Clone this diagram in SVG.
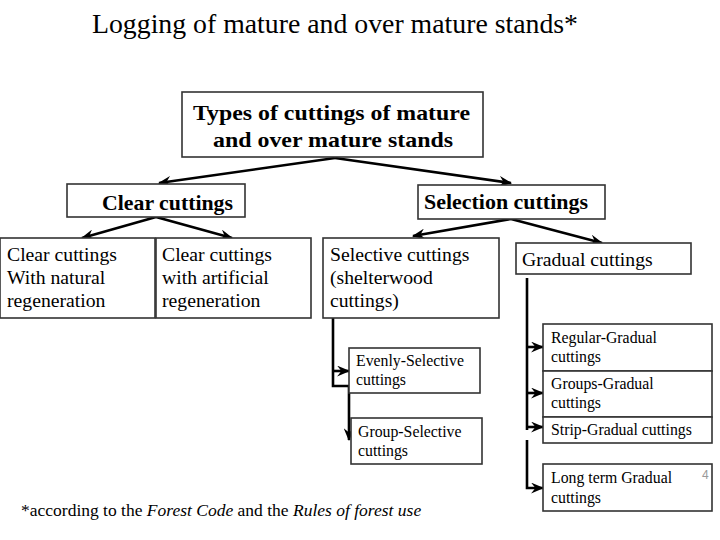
<svg xmlns="http://www.w3.org/2000/svg" width="720" height="540" viewBox="0 0 720 540">
<style>
.bx{fill:#fff;stroke:#333;stroke-width:1.6}
.t{font-family:"Liberation Serif","Times New Roman",serif;fill:#000}
.b{font-weight:bold;font-size:22px}
.m{font-size:19.7px}
.s{font-size:15.8px}
.c{fill:none;stroke:#000;stroke-width:2.6}
</style>
<defs>
<marker id="ah" viewBox="0 0 12 10" refX="11" refY="5" markerWidth="13" markerHeight="11" markerUnits="userSpaceOnUse" orient="auto">
<path d="M0,0 L12,5 L0,10 L4,5 z" fill="#000"/>
</marker>
</defs>
<rect width="720" height="540" fill="#fff"/>
<text class="t" x="92" y="33" font-size="27.8" textLength="486" lengthAdjust="spacingAndGlyphs">Logging of mature and over mature stands*</text>

<g id="connectors">
<path class="c" d="M335,158 L159,183" marker-end="url(#ah)"/>
<path class="c" d="M335,158 L511,183" marker-end="url(#ah)"/>
<path class="c" d="M156,217 L82,238" marker-end="url(#ah)"/>
<path class="c" d="M156,217 L232,238" marker-end="url(#ah)"/>
<path class="c" d="M511,219 L413,236" marker-end="url(#ah)"/>
<path class="c" d="M511,219 L602,243" marker-end="url(#ah)"/>
<path class="c" d="M333,318 V386 H349 V440" marker-end="url(#ah)"/>
<path class="c" d="M333,371 H349" marker-end="url(#ah)"/>
<path class="c" d="M527,278 V430"/>
<path class="c" d="M527,347 H543" marker-end="url(#ah)"/>
<path class="c" d="M527,393 H543" marker-end="url(#ah)"/>
<path class="c" d="M527,427 H543" marker-end="url(#ah)"/>
<path class="c" d="M527,440 V488 H543" marker-end="url(#ah)"/>
</g>

<g id="root">
<rect class="bx" x="182" y="92" width="301" height="65"/>
<text class="t b" x="193" y="120" font-size="24" textLength="277" lengthAdjust="spacingAndGlyphs">Types of cuttings of mature</text>
<text class="t b" x="213" y="147" font-size="24" textLength="240" lengthAdjust="spacingAndGlyphs">and over mature stands</text>
</g>

<g id="clear">
<rect class="bx" x="67" y="184" width="178" height="33"/>
<text class="t b" x="102" y="210" textLength="131" lengthAdjust="spacingAndGlyphs">Clear cuttings</text>
</g>

<g id="selection">
<rect class="bx" x="418" y="185" width="187" height="34"/>
<text class="t b" x="424" y="209" textLength="164" lengthAdjust="spacingAndGlyphs">Selection cuttings</text>
</g>

<g id="clear-natural">
<rect class="bx" x="0" y="238" width="155" height="80"/>
<text class="t m" x="7" y="261">Clear cuttings</text>
<text class="t m" x="7" y="284">With natural</text>
<text class="t m" x="7" y="307">regeneration</text>
</g>

<g id="clear-artificial">
<rect class="bx" x="156" y="238" width="155" height="80"/>
<text class="t m" x="162" y="261">Clear cuttings</text>
<text class="t m" x="162" y="284">with artificial</text>
<text class="t m" x="162" y="307">regeneration</text>
</g>

<g id="selective">
<rect class="bx" x="323" y="238" width="176" height="80"/>
<text class="t m" x="330" y="261">Selective cuttings</text>
<text class="t m" x="330" y="284">(shelterwood</text>
<text class="t m" x="330" y="307">cuttings)</text>
</g>

<g id="gradual">
<rect class="bx" x="516" y="243" width="175" height="31"/>
<text class="t m" x="522" y="266">Gradual cuttings</text>
</g>

<g id="evenly">
<rect class="bx" x="349" y="348" width="131" height="45"/>
<text class="t s" x="356" y="366">Evenly-Selective</text>
<text class="t s" x="356" y="385">cuttings</text>
</g>

<g id="group-sel">
<rect class="bx" x="351" y="418" width="131" height="46"/>
<text class="t s" x="358" y="437">Group-Selective</text>
<text class="t s" x="358" y="456">cuttings</text>
</g>

<g id="regular">
<rect class="bx" x="543" y="324" width="169" height="47"/>
<text class="t s" x="551" y="343">Regular-Gradual</text>
<text class="t s" x="551" y="362">cuttings</text>
</g>

<g id="groups-grad">
<rect class="bx" x="543" y="371" width="169" height="46"/>
<text class="t s" x="551" y="389">Groups-Gradual</text>
<text class="t s" x="551" y="408">cuttings</text>
</g>

<g id="strip">
<rect class="bx" x="543" y="417" width="169" height="26"/>
<text class="t s" x="551" y="435">Strip-Gradual cuttings</text>
</g>

<g id="longterm">
<rect class="bx" x="543" y="464" width="169" height="47"/>
<text class="t s" x="551" y="483">Long term Gradual</text>
<text class="t s" x="551" y="503">cuttings</text>
<text x="702" y="479" font-family="Liberation Sans, Arial, sans-serif" font-size="12" fill="#999">4</text>
</g>

<text class="t" x="21" y="516" font-size="17.5">*according to the <tspan font-style="italic">Forest Code</tspan> and the <tspan font-style="italic">Rules of forest use</tspan></text>
</svg>
